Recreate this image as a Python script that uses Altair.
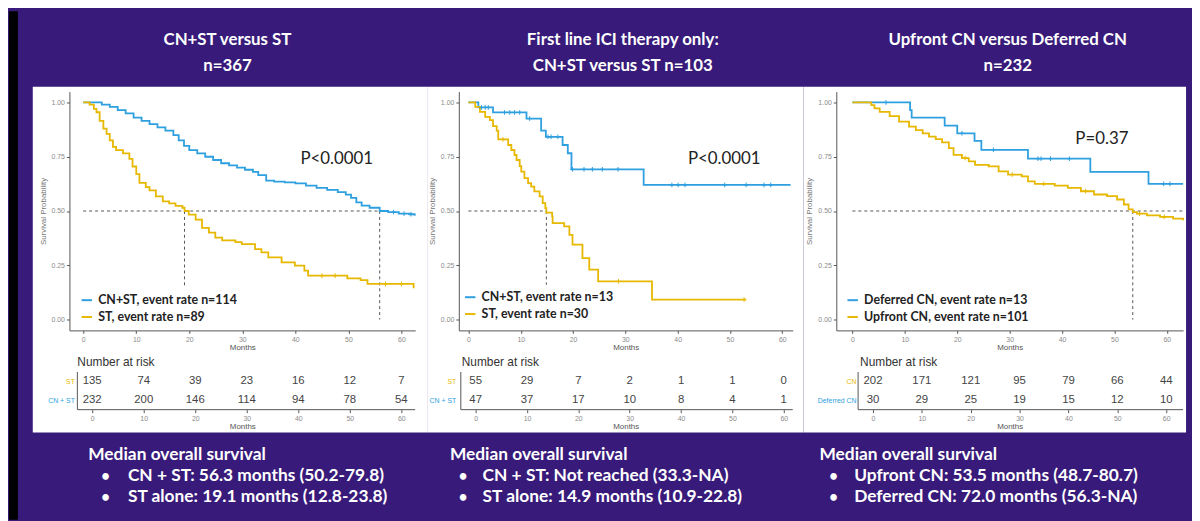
import altair as alt
import pandas as pd

BG = "#371a79"
BLUE = "#2E9FDF"
YELLOW = "#E7B800"
AXIS_GREY = "#555555"
LABEL_GREY = "#8c8c8c"

months_ticks = [0, 10, 20, 30, 40, 50, 60]
surv_ticks = [0, 0.25, 0.5, 0.75, 1.0]
risk_times = [0, 10, 20, 30, 40, 50, 60]

# ---------------- Panel 1 ----------------
p1_title = ["CN+ST versus ST", "n=367"]
p1_labels = ["CN+ST, event rate n=114", "ST, event rate n=89"]
p1_blue_t = [0, 2.5, 3.5, 5, 6.5, 8, 9.5, 11, 12.5, 14, 15.5, 17, 18, 19, 20, 21.5, 23, 24.5, 26, 27.5,
             29, 30.5, 32, 33, 34.5, 36, 38, 40, 42, 44, 46, 48, 49.5, 50.5, 51.5, 52.5, 54, 55.9, 57.5, 59.5,
             61.5, 62.5]
p1_blue_s = [1.0, 1.0, 0.99, 0.98, 0.965, 0.95, 0.93, 0.915, 0.9, 0.885, 0.87, 0.85, 0.825, 0.8, 0.78, 0.765,
             0.75, 0.735, 0.72, 0.71, 0.70, 0.69, 0.68, 0.665, 0.64, 0.635, 0.632, 0.627, 0.617, 0.607, 0.597,
             0.587, 0.575, 0.56, 0.54, 0.525, 0.515, 0.50, 0.495, 0.488, 0.485, 0.478]
p1_yel_t = [0, 1.2, 2, 2.5, 3.1, 3.8, 4.4, 5, 5.6, 6.2, 7.5, 8.7, 9.3, 10, 10.6, 11.8, 12.5, 13.7, 15, 16.2,
            17.4, 18.7, 19.1, 19.9, 21.2, 22.4, 23.7, 24.9, 26.2, 28.7, 29.9, 32.4, 33.6, 34.9, 37.4, 39.9,
            41.7, 42.4, 49.8, 52.3, 53.6, 62.3]
p1_yel_s = [1, 0.99, 0.97, 0.955, 0.915, 0.88, 0.855, 0.825, 0.795, 0.78, 0.765, 0.74, 0.705, 0.67, 0.63,
            0.61, 0.595, 0.567, 0.544, 0.535, 0.524, 0.515, 0.50, 0.483, 0.46, 0.422, 0.40, 0.377, 0.365,
            0.357, 0.347, 0.324, 0.309, 0.286, 0.263, 0.248, 0.225, 0.202, 0.19, 0.182, 0.164, 0.144]
p1_cens_blue_t = [58.5, 60.5, 61.8]
p1_cens_blue_s = [0.495, 0.488, 0.485]
p1_cens_yel_t = [45.0, 47.5, 57.0, 60.0]
p1_cens_yel_s = [0.202, 0.202, 0.164, 0.164]
p1_med_t = [0, 19.1, 55.9]
p1_med_t2 = [55.9, 19.1, 55.9]
p1_med_s = [0.5, 0.5, 0.5]
p1_med_s2 = [0.5, 0.15, 0.0]
p1_p_text = ["P<0.0001"]
p1_p_t = [47.8]
p1_p_s = [0.74]
p1_risk_labels = ["ST", "CN + ST"]
p1_risk_top = [135, 74, 39, 23, 16, 12, 7]
p1_risk_bottom = [232, 200, 146, 114, 94, 78, 54]
p1_median = ["Median overall survival", "CN + ST: 56.3 months (50.2-79.8)", "ST alone: 19.1 months (12.8-23.8)"]

# ---------------- Panel 2 ----------------
p2_title = ["First line ICI therapy only:", "CN+ST versus ST  n=103"]
p2_labels = ["CN+ST, event rate n=13", "ST, event rate n=30"]
p2_blue_t = [0, 1.9, 4.7, 11.1, 13.9, 14.8, 18.0, 19.0, 19.7, 33.5, 61.6]
p2_blue_s = [1.0, 0.977, 0.954, 0.926, 0.87, 0.842, 0.804, 0.766, 0.692, 0.62, 0.62]
p2_yel_t = [0, 1.3, 2.2, 3.2, 4.1, 4.7, 5.4, 5.7, 7.6, 8.2, 8.8, 9.2, 9.8, 10.1, 10.7, 11.4, 12.0, 12.6,
            13.6, 14.2, 14.7, 14.9, 16.0, 16.1, 18.3, 19.3, 19.9, 21.8, 23.1, 24.8, 35.1, 53.1]
p2_yel_s = [1.0, 0.98, 0.957, 0.934, 0.919, 0.891, 0.87, 0.83, 0.804, 0.781, 0.758, 0.735, 0.707, 0.681,
            0.651, 0.628, 0.612, 0.59, 0.567, 0.536, 0.513, 0.493, 0.475, 0.444, 0.429, 0.39, 0.345, 0.283,
            0.23, 0.176, 0.092, 0.092]
p2_cens_blue_t = [2.5, 3.2, 3.8, 6.9, 7.9, 8.8, 9.8, 11.7, 15.2, 15.8, 17.1, 19.9, 22.1, 23.7, 25.6, 28.6,
                  38.9, 40.1, 41.4, 49.0, 53.1, 56.5, 57.8]
p2_cens_blue_s = [0.977, 0.977, 0.977, 0.954, 0.954, 0.954, 0.954, 0.926, 0.842, 0.842, 0.842, 0.692, 0.692,
                  0.692, 0.692, 0.692, 0.62, 0.62, 0.62, 0.62, 0.62, 0.62, 0.62]
p2_cens_yel_t = [6.6, 28.7, 52.7]
p2_cens_yel_s = [0.83, 0.176, 0.092]
p2_med_t = [0, 14.9]
p2_med_t2 = [14.9, 14.9]
p2_med_s = [0.5, 0.5]
p2_med_s2 = [0.5, 0.16]
p2_p_text = ["P<0.0001"]
p2_p_t = [48.9]
p2_p_s = [0.74]
p2_risk_labels = ["ST", "CN + ST"]
p2_risk_top = [55, 29, 7, 2, 1, 1, 0]
p2_risk_bottom = [47, 37, 17, 10, 8, 4, 1]
p2_median = ["Median overall survival", "CN + ST: Not reached (33.3-NA)", "ST alone: 14.9 months (10.9-22.8)"]

# ---------------- Panel 3 ----------------
p3_title = ["Upfront CN versus Deferred CN", "n=232"]
p3_labels = ["Deferred CN, event rate n=13", "Upfront CN, event rate n=101"]
p3_blue_t = [0, 11.0, 11.3, 17.6, 20.0, 23.3, 24.6, 33.5, 45.4, 56.5, 63.1]
p3_blue_s = [1.0, 0.965, 0.93, 0.893, 0.858, 0.823, 0.782, 0.741, 0.68, 0.625, 0.625]
p3_yel_t = [0, 2.6, 3.6, 4.2, 5.2, 7.1, 8.9, 10.8, 12.1, 13.4, 14.6, 15.9, 17.1, 18.4, 19.3, 20.9, 22.2,
            23.4, 26.0, 27.9, 29.7, 32.3, 33.5, 34.8, 38.6, 41.1, 43.6, 46.1, 48.6, 50.5, 51.8, 52.7, 53.5,
            54.3, 56.2, 58.7, 61.2, 63.1]
p3_yel_s = [1.0, 1.0, 0.988, 0.973, 0.957, 0.937, 0.912, 0.889, 0.873, 0.858, 0.843, 0.831, 0.816, 0.79,
            0.759, 0.744, 0.729, 0.713, 0.706, 0.683, 0.668, 0.66, 0.637, 0.625, 0.617, 0.607, 0.591, 0.576,
            0.569, 0.553, 0.53, 0.508, 0.495, 0.488, 0.48, 0.473, 0.465, 0.457]
p3_cens_blue_t = [6.4, 20.9, 26.9, 35.4, 36.0, 37.8, 41.4, 59.4, 60.6]
p3_cens_blue_s = [1.0, 0.858, 0.782, 0.741, 0.741, 0.741, 0.741, 0.625, 0.625]
p3_cens_yel_t = [21.5, 30.5, 36.5, 44.5, 54.8, 59.5]
p3_cens_yel_s = [0.744, 0.668, 0.625, 0.591, 0.488, 0.473]
p3_med_t = [0, 53.5]
p3_med_t2 = [63.1, 53.5]
p3_med_s = [0.5, 0.5]
p3_med_s2 = [0.5, 0.0]
p3_p_text = ["P=0.37"]
p3_p_t = [47.6]
p3_p_s = [0.83]
p3_risk_labels = ["CN", "Deferred CN"]
p3_risk_top = [202, 171, 121, 95, 79, 66, 44]
p3_risk_bottom = [30, 29, 25, 19, 15, 12, 10]
p3_median = ["Median overall survival", "Upfront CN: 53.5 months (48.7-80.7)", "Deferred CN: 72.0 months (56.3-NA)"]

# ---------------- layout (positions / sizes) ----------------
KM_H = 241
RISK_H = 38
TEXT_H = 42

layout = [
    dict(w=349, xdom=[-2.6, 62.6], rdom=[-4.42, 62.7], raxis=-2.88, labpad=-5, rtdx=8,
         tdx=-15, legx=11, legy=204, white=(-37, 361), black=(-61, -52), hx=19, bx=32, tx=59),
    dict(w=337, xdom=[-1.84, 62.0], rdom=[-3.28, 61.74], raxis=-2.89, labpad=3, rtdx=3,
         tdx=-3, legx=5, legy=201, white=(-32, 348), black=None, hx=-9, bx=0, tx=24),
    dict(w=350, xdom=[-3.08, 63.1], rdom=[-7.5, 63.45], raxis=-3.04, labpad=-20, rtdx=24,
         tdx=-2, legx=10, legy=204, white=(-33, 353), black=None, hx=-17, bx=-7, tx=18),
]

panels = [
    dict(title=p1_title, labels=p1_labels, bt=p1_blue_t, bs=p1_blue_s, yt=p1_yel_t, ys=p1_yel_s,
         cbt=p1_cens_blue_t, cbs=p1_cens_blue_s, cyt=p1_cens_yel_t, cys=p1_cens_yel_s,
         mt=p1_med_t, mt2=p1_med_t2, ms=p1_med_s, ms2=p1_med_s2, pt=p1_p_text, px=p1_p_t, py=p1_p_s,
         rl=p1_risk_labels, rtop=p1_risk_top, rbot=p1_risk_bottom, med=p1_median),
    dict(title=p2_title, labels=p2_labels, bt=p2_blue_t, bs=p2_blue_s, yt=p2_yel_t, ys=p2_yel_s,
         cbt=p2_cens_blue_t, cbs=p2_cens_blue_s, cyt=p2_cens_yel_t, cys=p2_cens_yel_s,
         mt=p2_med_t, mt2=p2_med_t2, ms=p2_med_s, ms2=p2_med_s2, pt=p2_p_text, px=p2_p_t, py=p2_p_s,
         rl=p2_risk_labels, rtop=p2_risk_top, rbot=p2_risk_bottom, med=p2_median),
    dict(title=p3_title, labels=p3_labels, bt=p3_blue_t, bs=p3_blue_s, yt=p3_yel_t, ys=p3_yel_s,
         cbt=p3_cens_blue_t, cbs=p3_cens_blue_s, cyt=p3_cens_yel_t, cys=p3_cens_yel_s,
         mt=p3_med_t, mt2=p3_med_t2, ms=p3_med_s, ms2=p3_med_s2, pt=p3_p_text, px=p3_p_t, py=p3_p_s,
         rl=p3_risk_labels, rtop=p3_risk_top, rbot=p3_risk_bottom, med=p3_median),
]

ONE = pd.DataFrame({"k": [0]})


def km_chart(p, L):
    rows = []
    for lab, ts, ss in [(p["labels"][0], p["bt"], p["bs"]), (p["labels"][1], p["yt"], p["ys"])]:
        for t, s in zip(ts, ss):
            rows.append({"t": t, "s": s, "group": lab})
    curves = pd.DataFrame(rows)
    crow = []
    for lab, ts, ss in [(p["labels"][0], p["cbt"], p["cbs"]), (p["labels"][1], p["cyt"], p["cys"])]:
        for t, s in zip(ts, ss):
            crow.append({"t": t, "s": s, "group": lab})
    med = pd.DataFrame({"t": p["mt"], "t2": p["mt2"], "s": p["ms"], "s2": p["ms2"]})
    ptxt = pd.DataFrame({"t": p["px"], "s": p["py"], "label": p["pt"]})

    xs = alt.Scale(domain=L["xdom"], nice=False, zero=False)
    ys = alt.Scale(domain=[-0.05, 1.05], nice=False, zero=False)
    xax = alt.Axis(values=months_ticks, title="Months", grid=False, domainColor=AXIS_GREY, domainWidth=1,
                   tickColor=AXIS_GREY, tickSize=3, labelFont="Liberation Sans", labelFontSize=7,
                   labelColor=LABEL_GREY, labelPadding=2, titleFont="Liberation Sans", titleFontSize=8,
                   titleFontWeight="normal", titleColor="#555555", titlePadding=1, zindex=1)
    yax = alt.Axis(values=surv_ticks, format=".2f", title="Survival Probability", grid=False,
                   domainColor=AXIS_GREY, domainWidth=1, tickColor=AXIS_GREY, tickSize=3,
                   labelFont="Liberation Sans", labelFontSize=7, labelColor=LABEL_GREY, labelPadding=2,
                   titleFont="Liberation Sans", titleFontSize=8, titleFontWeight="normal",
                   titleColor="#777777", titlePadding=4, zindex=1)
    X = alt.X("t:Q", scale=xs, axis=xax)
    Y = alt.Y("s:Q", scale=ys, axis=yax)
    cscale = alt.Scale(domain=p["labels"], range=[BLUE, YELLOW])
    color = alt.Color("group:N", scale=cscale, legend=alt.Legend(
        title=None, orient="none", legendX=L["legx"], legendY=L["legy"], symbolType="stroke",
        symbolStrokeWidth=2, symbolSize=110, labelFont="Lato", labelFontSize=12.5, labelFontWeight="bold",
        labelColor="#222222", rowPadding=4, labelOffset=5, padding=0, zindex=1, labelLimit=400))

    layers = []
    layers.append(alt.Chart(ONE).mark_rect(color="white").encode(
        x=alt.value(L["white"][0]), x2=alt.value(L["white"][1]), y=alt.value(-5), y2=alt.value(344)))
    layers.append(alt.Chart(med).mark_rule(color="#555555", strokeDash=[3, 3], strokeWidth=1).encode(
        x=X, x2="t2:Q", y=Y, y2="s2:Q"))
    layers.append(alt.Chart(curves).mark_line(interpolate="step-after", strokeWidth=1.8).encode(
        x=X, y=Y, color=color))
    if crow:
        layers.append(alt.Chart(pd.DataFrame(crow)).mark_point(
            shape="M-1,0H1M0,-1V1", size=22, filled=False, strokeWidth=1, opacity=1).encode(
            x=X, y=Y, stroke=alt.Stroke("group:N", scale=cscale, legend=None)))
    layers.append(alt.Chart(ptxt).mark_text(font="Lato", fontSize=17, color="#222222").encode(
        x=X, y=Y, text="label:N"))

    return alt.layer(*layers).properties(
        width=L["w"], height=KM_H,
        title=alt.TitleParams(text=p["title"], anchor="middle", frame="group", dx=L["tdx"], fontSize=17,
                              font="Lato", fontWeight="bold", color="white", offset=12, lineHeight=26))


def risk_chart(p, L):
    rows = []
    for lab, vals in [(p["rl"][0], p["rtop"]), (p["rl"][1], p["rbot"])]:
        for t, n in zip(risk_times, vals):
            rows.append({"t": t, "n": n, "grp": lab})
    df = pd.DataFrame(rows)
    xs = alt.Scale(domain=L["rdom"], nice=False, zero=False)
    ys = alt.Scale(domain=p["rl"], type="point", padding=0.5)
    xax = alt.Axis(values=months_ticks, title="Months", grid=False, domain=False, tickColor=AXIS_GREY,
                   tickSize=3, labelFont="Liberation Sans", labelFontSize=7, labelColor=LABEL_GREY,
                   labelPadding=2, titleFont="Liberation Sans", titleFontSize=8, titleFontWeight="normal",
                   titleColor="#555555", titlePadding=1, zindex=1)
    yax = alt.Axis(title=None, grid=False, domain=False, ticks=False, tickSize=0, labelPadding=L["labpad"],
                   labelFont="Liberation Sans", labelFontSize=7,
                   labelColor={"condition": {"test": "datum.value === '%s'" % p["rl"][0], "value": YELLOW},
                               "value": BLUE}, zindex=1)
    X = alt.X("t:Q", scale=xs, axis=xax)
    axdf = pd.DataFrame({"t": [L["raxis"]], "t2": [L["rdom"][1]]})
    vline = alt.Chart(axdf).mark_rule(color=AXIS_GREY, strokeWidth=1).encode(x=X)
    hline = alt.Chart(axdf).mark_rule(color=AXIS_GREY, strokeWidth=1).encode(
        x=X, x2="t2:Q", y=alt.value(RISK_H))
    nums = alt.Chart(df).mark_text(font="Liberation Sans", fontSize=11.5, color="#444444").encode(
        x=X, y=alt.Y("grp:N", scale=ys, axis=yax), text="n:Q")
    return alt.layer(vline, hline, nums).properties(
        width=L["w"], height=RISK_H,
        title=alt.TitleParams("Number at risk", anchor="start", frame="group", dx=L["rtdx"], fontSize=12,
                              font="Liberation Sans", fontWeight="normal", color="#333333", offset=3))


def text_chart(p, L):
    df = pd.DataFrame({"row": [0, 1, 2], "txt": p["med"]})
    y = alt.Y("row:O", scale=alt.Scale(domain=[0, 1, 2], type="point", padding=0), axis=None)
    style = dict(align="left", baseline="middle", dy=4, font="Lato", fontSize=17.5, fontWeight="bold",
                 color="white")
    layers = []
    if L["black"] is not None:
        # dark strip at the left edge of the slide (from top to bottom of the page)
        layers.append(alt.Chart(ONE).mark_rect(color="black").encode(
            x=alt.value(L["black"][0]), x2=alt.value(L["black"][1]), y=alt.value(-444), y2=alt.value(69)))
    layers.append(alt.Chart(df).transform_filter("datum.row == 0").mark_text(**style).encode(
        x=alt.value(L["hx"]), y=y, text="txt:N"))
    layers.append(alt.Chart(df).transform_filter("datum.row > 0").mark_text(**dict(style, fontSize=15)).encode(
        x=alt.value(L["bx"]), y=y, text=alt.value("\u2022")))
    layers.append(alt.Chart(df).transform_filter("datum.row > 0").mark_text(**style).encode(
        x=alt.value(L["tx"]), y=y, text="txt:N"))
    return alt.layer(*layers).properties(width=L["w"], height=TEXT_H)


kms = [km_chart(p, L) for p, L in zip(panels, layout)]
risks = [risk_chart(p, L) for p, L in zip(panels, layout)]
texts = [text_chart(p, L) for p, L in zip(panels, layout)]

chart = alt.concat(
    *kms, *risks, *texts, columns=3, spacing={"row": 42, "column": 44}, bounds="flush"
).resolve_scale(
    color="independent", stroke="independent"
).resolve_legend(
    color="independent", stroke="independent"
).properties(
    padding={"left": 0, "top": 0, "right": 4, "bottom": 0}, background=BG
).configure_view(stroke="transparent")

chart.save("out.html", embed_options={"renderer": "svg", "actions": False})
